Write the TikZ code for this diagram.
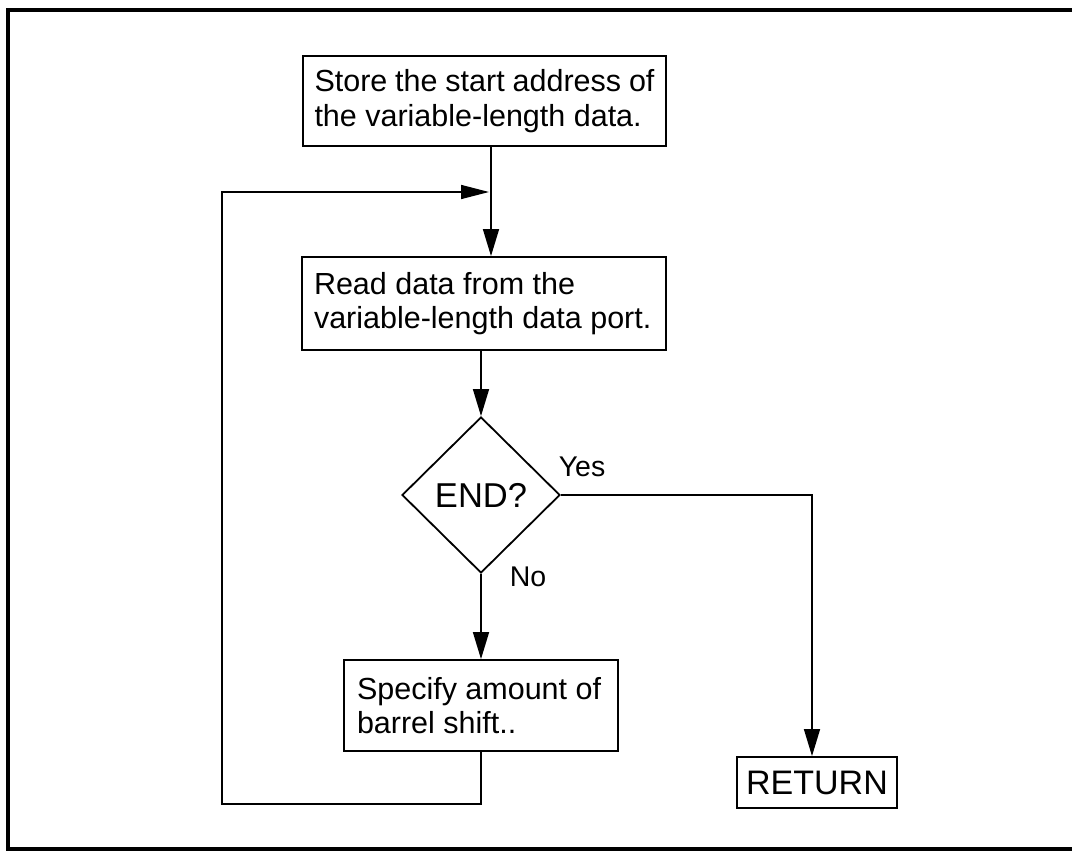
\documentclass[tikz,border=0pt]{standalone}
\usepackage{fontspec}
\setmainfont{Liberation Sans}
\usetikzlibrary{arrows.meta,shapes.geometric,calc}
\begin{document}
\begin{tikzpicture}[x=1pt,y=-1pt,
  procbox/.style={draw,line width=1.8pt,inner sep=0pt,minimum height=#1,font=\fontsize{30.5}{34.5}\selectfont},
  conn/.style={line width=1.5pt},
  arr/.style={conn,-{Triangle[length=27pt,width=16pt]}},
  lbl/.style={font=\fontsize{28.5}{32}\selectfont,inner sep=0pt}]
\useasboundingbox (0,0) rectangle (1072,853);
\draw[line width=3.5pt] (1090,10) -- (8,10) -- (8,849) -- (1090,849);
% boxes
\node[procbox=90pt,minimum width=363pt] (b1) at (484.5,101)
  {\parbox{340pt}{Store the start address of\\the variable-length data.}};
\node[procbox=93pt,minimum width=364pt] (b2) at (484,303.5)
  {\parbox{340pt}{Read data from the\\variable-length data port.}};
\node[procbox=91pt,minimum width=274pt] (b3) at (481,705.5)
  {\parbox{248pt}{Specify amount of\\barrel shift..}};
\node[draw,line width=1.8pt,minimum width=160pt,minimum height=51pt,inner sep=0pt,
  font=\fontsize{34}{38}\selectfont] (ret) at (817,782.5) {RETURN};
\node[diamond,draw,line width=1.8pt,minimum width=158pt,minimum height=156pt,inner sep=0pt,
  font=\fontsize{34.5}{38}\selectfont] (d) at (481,495) {END?};
\node[lbl] (yes) at (582,467) {Yes};
\node[lbl] (no) at (528,577) {No};
% connectors
\coordinate (m1) at (491,192);
\draw[arr] (b1.south -| m1) -- (b2.north -| m1);
\draw[arr] (b2.south -| d.north) -- (d.north);
\draw[arr] (d.south) -- (b3.north -| d.south);
\coordinate (ry) at (812,497);
\draw[arr] (d.east) -- (d.east -| ry) -- (ret.north -| ry);
\coordinate (lp1) at (481,804);
\coordinate (lp2) at (222,804);
\coordinate (lp3) at (222,192);
\draw[conn,-{Triangle[length=28pt,width=14pt]}] (b3.south -| lp1) -- (lp1) -- (lp2) -- (lp3) -- ($(m1)+(-2,0)$);
\end{tikzpicture}
\end{document}
